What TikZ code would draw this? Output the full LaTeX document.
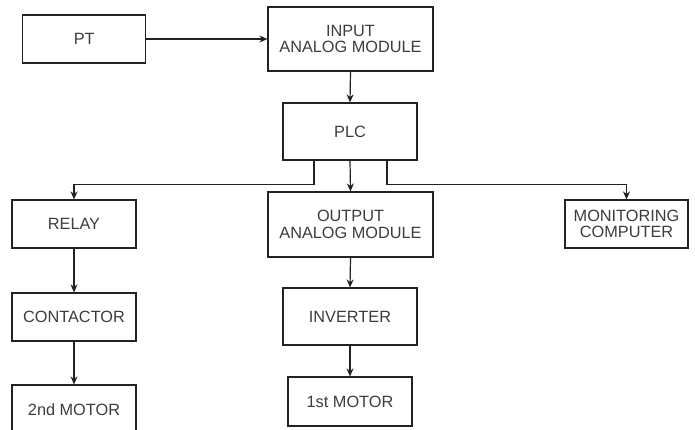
\documentclass[tikz,border=0pt]{standalone}
\usepackage{fontspec}
\setmainfont{Liberation Sans}
\usetikzlibrary{arrows.meta}
\definecolor{txt}{HTML}{3C3C3C}
\definecolor{ln}{HTML}{222222}
\begin{document}
\begin{tikzpicture}[x=1pt,y=-1pt,
  box/.style={draw=ln,line width=1.2pt,rectangle,inner sep=0pt,align=center,
    text=txt,font=\fontsize{16.3}{16.5}\selectfont},
  arr/.style={draw=ln,line width=1.2pt,-{Stealth[length=8pt,width=7pt]}}]
\useasboundingbox (0,0) rectangle (695,429);
\clip (0,0) rectangle (695,429);
\node[box,minimum width=123pt,minimum height=48pt] (pt) at (84.2,39) {PT};
\node[box,minimum width=165pt,minimum height=64pt] (inp) at (350.5,39) {INPUT\\ANALOG MODULE};
\node[box,minimum width=134pt,minimum height=57pt] (plc) at (350,131.5) {PLC};
\node[box,minimum width=124pt,minimum height=48pt] (relay) at (74,224) {RELAY};
\node[box,minimum width=165pt,minimum height=65pt] (out) at (350.5,224.5) {OUTPUT\\ANALOG MODULE};
\node[box,minimum width=123pt,minimum height=48pt] (mon) at (626.5,224) {MONITORING\\COMPUTER};
\node[box,minimum width=124pt,minimum height=48pt] (cont) at (74,317) {CONTACTOR};
\node[box,minimum width=134pt,minimum height=57pt] (inv) at (350,316.5) {INVERTER};
\node[box,minimum width=124pt,minimum height=49pt] (m1) at (350,401.5) {1st MOTOR};
\node[box,minimum width=124pt,minimum height=50pt,text depth=0pt] (m2) at (74,410) {2nd MOTOR};
\draw[arr] (pt.east) -- (inp.west);
\draw[arr] (inp.south) -- (plc.north);
\draw[arr] ([xshift=-36pt]plc.south) -- ++(0,24) -| (relay.north);
\draw[arr] (plc.south) -- (out.north);
\draw[arr] ([xshift=37pt]plc.south) -- ++(0,24) -| (mon.north);
\draw[arr] (relay.south) -- (cont.north);
\draw[arr] (cont.south) -- (m2.north);
\draw[arr] (out.south) -- (inv.north);
\draw[arr] (inv.south) -- (m1.north);
\end{tikzpicture}
\end{document}
